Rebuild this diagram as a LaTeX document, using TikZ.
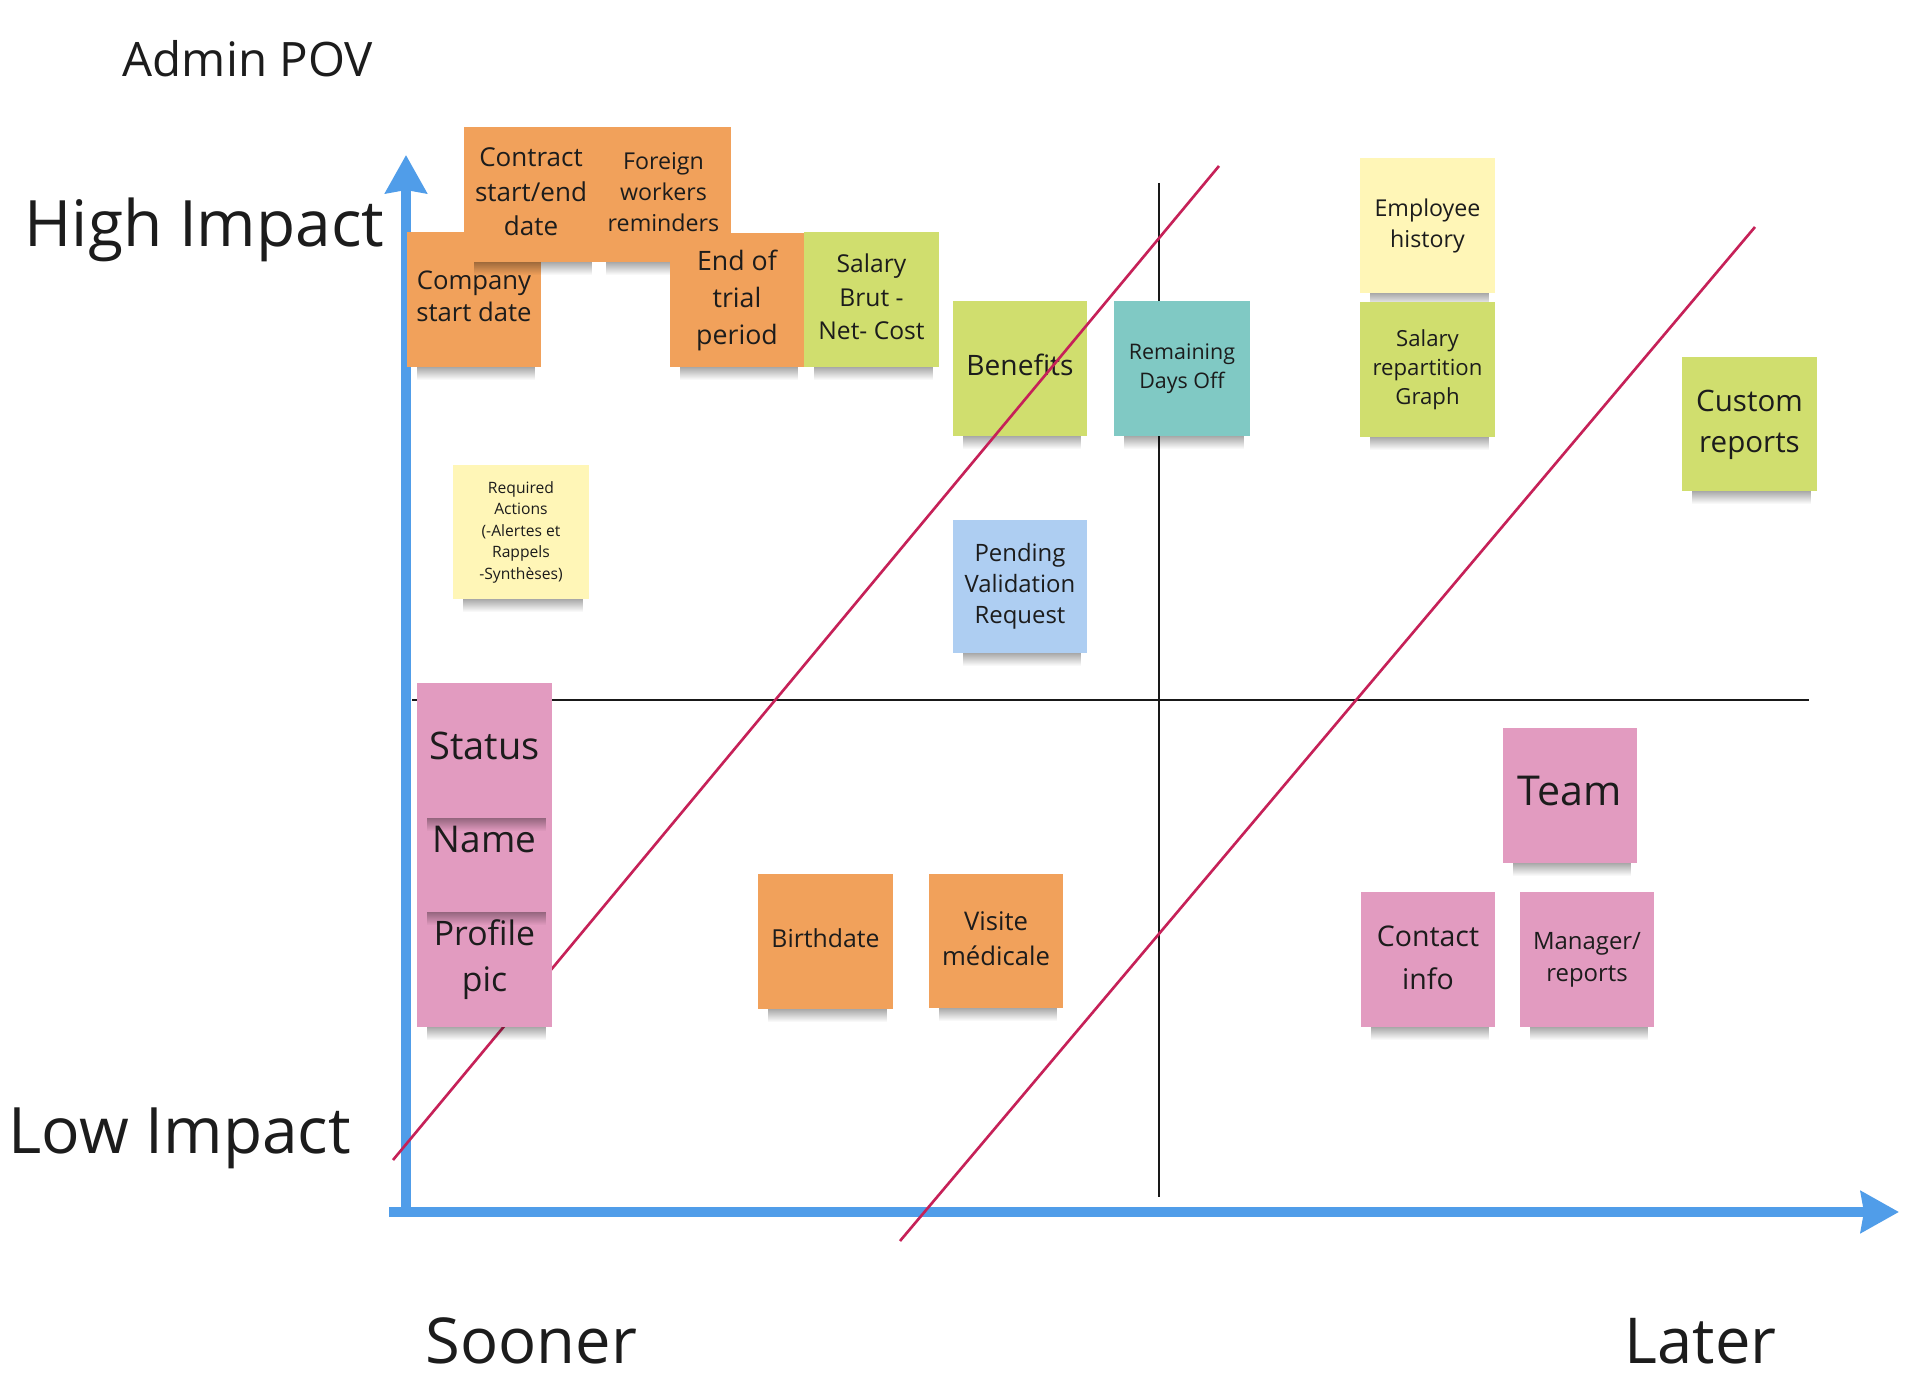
\documentclass[tikz,border=0pt]{standalone}
\usepackage{fontspec}
\setmainfont{Open Sans}
\usetikzlibrary{arrows.meta,fadings}
\definecolor{txt}{HTML}{1C1C1C}
\definecolor{axisblue}{HTML}{509DE9}
\definecolor{crimson}{HTML}{C62158}
\definecolor{sorange}{HTML}{F1A15B}
\definecolor{sgreen}{HTML}{D0DE6E}
\definecolor{syellow}{HTML}{FFF6B7}
\definecolor{steal}{HTML}{80C9C4}
\definecolor{sblue}{HTML}{AECEF2}
\definecolor{spink}{HTML}{E29BC0}
\tikzfading[name=shfade, top color=transparent!0, bottom color=transparent!100]
\tikzset{
  sticky/.style={inner sep=0pt, align=center, text=txt},
  stshadow/.style={fill=black, fill opacity=0.34, path fading=shfade},
  title/.style={anchor=base west, inner sep=0pt, text=txt},
  axisline/.style={draw=axisblue, line width=0.1cm, line cap=butt,
    -{Stealth[length=0.38cm, width=0.41cm, inset=0.03cm]}},
  quadline/.style={draw=black!90, line width=0.6pt},
  diagline/.style={draw=crimson, line width=0.75pt},
}
% #1 name, #2-#5 box, #6 colour, #7 font, #8 text, #9 text raise
\newcommand{\stk}[9]{%
  \fill[stshadow] ({#2+10},#5) rectangle ({#4-6},{#5+13});
  \fill[#6] (#2,#3) rectangle (#4,#5);
  \node[sticky, font={#7}] (#1) at ({(#2+#4)/2},{(#3+#5)/2}) {\raisebox{#9}{\begin{tabular}{@{}c@{}}#8\end{tabular}}};}
\begin{document}
\begin{tikzpicture}[x=0.01cm, y=-0.01cm]
\useasboundingbox[fill=white] (0,0) rectangle (1920,1398);

% titles
\node[title, font={\fontsize{13.5}{16}\selectfont}] (admin) at (122,77) {Admin POV};
\node[title, font={\fontsize{18.2}{22}\selectfont}] (high) at (24,247) {High Impact};
\node[title, font={\fontsize{18.2}{22}\selectfont}] (low) at (8,1154) {Low Impact};
\node[title, font={\fontsize{18}{22}\selectfont}] (sooner) at (425,1364) {Sooner};
\node[title, font={\fontsize{18}{22}\selectfont}] (later) at (1624,1364) {Later};

% quadrant lines
\coordinate (qtop) at (1159,183);
\coordinate (qbot) at (1159,1197);
\coordinate (qleft) at (412,700);
\coordinate (qright) at (1809,700);
\draw[quadline] (qtop) -- (qbot);
\draw[quadline] (qleft) -- (qright);

% axes
\coordinate (origin) at (406,1212);
\coordinate (ytip) at (406,155);
\coordinate (xstart) at (389,1212);
\coordinate (xtip) at (1899,1212);
\draw[axisline] (origin) -- (ytip);
\draw[axisline] (xstart) -- (xtip);

% stickies
\stk{company}{407}{232}{541}{367}{sorange}{\fontsize{7.3}{9.1}\selectfont}{Company\\start date}{1.4pt}
\stk{contract}{464}{127}{598}{262}{sorange}{\fontsize{7.4}{9.8}\selectfont}{Contract\\start/end\\date}{1.6pt}
\stk{foreign}{596}{127}{731}{262}{sorange}{\fontsize{6.6}{8.8}\selectfont}{Foreign\\workers\\reminders}{1.4pt}
\stk{endtrial}{670}{233}{804}{367}{sorange}{\fontsize{7.6}{10.5}\selectfont}{End of\\trial\\period}{1pt}
\stk{salarybrut}{804}{232}{939}{367}{sgreen}{\fontsize{7}{9.5}\selectfont}{Salary\\Brut -\\Net- Cost}{1.25pt}
\stk{benefits}{953}{301}{1087}{436}{sgreen}{\fontsize{8}{9.6}\selectfont}{Benefits}{1.4pt}
\stk{remaining}{1114}{301}{1250}{436}{steal}{\fontsize{6.1}{8.2}\selectfont}{Remaining\\Days Off}{0.5pt}
\stk{pending}{953}{520}{1087}{653}{sblue}{\fontsize{6.8}{8.8}\selectfont}{Pending\\Validation\\Request}{0pt}
\stk{required}{453}{465}{589}{599}{syellow}{\fontsize{4.45}{6.1}\selectfont}{Required\\Actions\\(-Alertes et\\Rappels\\-Synthèses)}{0.3pt}
\stk{employee}{1360}{158}{1495}{293}{syellow}{\fontsize{6.6}{8.8}\selectfont}{Employee\\history}{0.5pt}
\stk{salrep}{1360}{302}{1495}{437}{sgreen}{\fontsize{6.3}{8.3}\selectfont}{Salary\\repartition\\Graph}{1pt}
\stk{custom}{1682}{357}{1817}{491}{sgreen}{\fontsize{8.4}{11.4}\selectfont}{Custom\\reports}{0.2pt}
\stk{team}{1503}{728}{1637}{863}{spink}{\fontsize{11.7}{14}\selectfont}{Team}{1.4pt}
\stk{contact}{1361}{892}{1495}{1027}{spink}{\fontsize{8.1}{12}\selectfont}{Contact\\info}{1pt}
\stk{manager}{1520}{892}{1654}{1027}{spink}{\fontsize{6.8}{9.1}\selectfont}{Manager/\\reports}{0.5pt}
\stk{birthdate}{758}{874}{893}{1009}{sorange}{\fontsize{7.05}{9}\selectfont}{Birthdate}{0.6pt}
\stk{visite}{929}{874}{1063}{1008}{sorange}{\fontsize{7.3}{10}\selectfont}{Visite\\médicale}{0.7pt}

% diagonal lines
\coordinate (d1a) at (393,1160);
\coordinate (d1b) at (1219,166);
\coordinate (d2a) at (900,1241);
\coordinate (d2b) at (1755,227);
\draw[diagline] (d1a) -- (d1b);
\draw[diagline] (d2a) -- (d2b);

% stacked pink stickies
\stk{profile}{417}{892}{552}{1027}{spink}{\fontsize{9.6}{12.8}\selectfont}{Profile\\pic}{1pt}
\stk{name}{417}{777}{552}{912}{spink}{\fontsize{10.5}{12}\selectfont}{Name}{1.4pt}
\stk{status}{417}{683}{552}{818}{spink}{\fontsize{10.8}{13}\selectfont}{Status}{1.4pt}
\end{tikzpicture}
\end{document}
